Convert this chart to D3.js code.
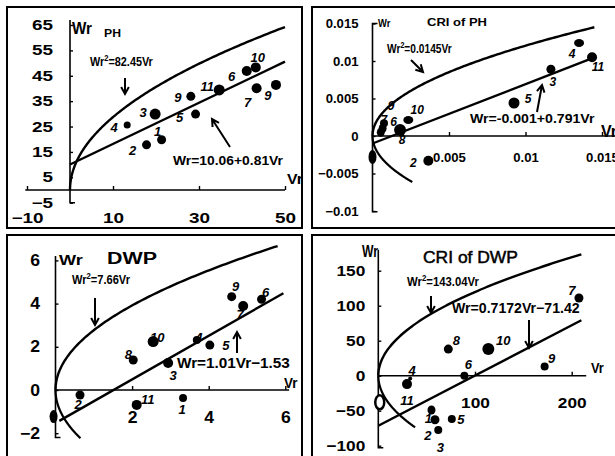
<!DOCTYPE html>
<html>
<head>
<meta charset="utf-8">
<script src="https://cdn.jsdelivr.net/npm/d3@7"></script>
<style>
  body { margin: 0; background: #fff; }
  svg { display: block; }
</style>
</head>
<body>
<svg id="chart" width="615" height="456"></svg>
<script>
// ---- PH ----
const phVr = [13.3, 19.8, 17.8, 21.3, 28.1, 29.2, 34.7, 41.1, 43.2, 43.4, 47.9];
const phWr = [25.6, 29.9, 17.8, 19.8, 36.9, 29.9, 39.4, 46.9, 48.3, 40.1, 41.4];
const phLabels = ["4", "3", "2", "1", "9", "5", "11", "6", "10", "7", "9"];
const phK = 82.45;             // Wr^2 = k Vr
const phFit = [10.06, 0.81];   // Wr = a + b Vr
const phXTicks = [-10, 10, 30, 50];
const phYTicks = [-5, 5, 15, 25, 35, 45, 55, 65];

// ---- CRI of PH ----
const cphVr = [0.0135, 0.01435, 0.01166, 0.00925, 0.00234, 0.0018, 0.00075, 0.00066, 0.00054, 0, 0.00365];
const cphWr = [0.0124, 0.0105, 0.0089, 0.0044, 0.00213, 0.0008, 0.0017, 0.001, 0.00049, -0.0028, -0.0033];
const cphLabels = ["4", "11", "3", "5", "10", "8", "9", "6", "7", "", "2"];
const cphK = 0.0145;
const cphFit = [-0.001, 0.791];
const cphXTicks = [0.005, 0.01, 0.015];
const cphYTicks = [-0.01, -0.005, 0, 0.005, 0.01, 0.015];

// ---- DWP ----
const dwpVr = [4.6, 4.9, 5.38, 3.69, 4.03, 2.55, 2.03, 2.94, 0.64, 2.12, 3.33, -0.05];
const dwpWr = [4.32, 3.89, 4.2, 2.31, 2.08, 2.24, 1.39, 1.25, -0.23, -0.69, -0.37, -1.23];
const dwpLabels = ["9", "7", "6", "4", "5", "10", "8", "3", "2", "11", "1", ""];
const dwpK = 7.66;
const dwpFit = [-1.53, 1.01];
const dwpXTicks = [2, 4, 6];
const dwpYTicks = [-2, 0, 2, 4, 6];

// ---- CRI of DWP ----
const cdwpVr = [207.5, 72.4, 113.8, 172, 89, 33, 29.7, 55, 58.6, 62, 76, 1.5];
const cdwpWr = [111, 38, 38, 13, 0, -4, -12, -49, -63, -77.6, -62, -38];
const cdwpLabels = ["7", "8", "10", "9", "6", "4", "11", "1", "2", "3", "5", ""];
const cdwpK = 143.04;
const cdwpFit = [-71.42, 0.7172];
const cdwpXTicks = [100, 200];
const cdwpYTicks = [-100, -50, 0, 50, 100, 150];

const FONT = '"Liberation Sans", Arial, Helvetica, sans-serif';
const svg = d3.select("#chart").attr("font-family", FONT);

// stretch tick text horizontally (the scanned figure is a bit wide)
function widen(sel, sx) {
  sel.each(function () {
    if (sx === 1) return;
    const w = this.getComputedTextLength();
    d3.select(this).attr("textLength", w * sx).attr("lengthAdjust", "spacingAndGlyphs");
  });
}

function arrow(g, x1, y1, x2, y2) {
  const a = Math.atan2(y2 - y1, x2 - x1), h = 8, s = 0.5;
  const p = `M${x1},${y1}L${x2},${y2}` +
    `M${x2 - h * Math.cos(a - s)},${y2 - h * Math.sin(a - s)}L${x2},${y2}` +
    `L${x2 - h * Math.cos(a + s)},${y2 - h * Math.sin(a + s)}`;
  g.append("path").attr("d", p).attr("fill", "none").attr("stroke", "#000")
    .attr("stroke-width", 2).attr("stroke-linejoin", "miter");
}

// text at (x, y) baseline-left, squeezed/stretched to the given width
function label(g, txt, x, y, size, width, opts = {}) {
  const t = g.append("text").attr("transform", `translate(${x},${y})`)
    .attr("font-size", size).attr("font-weight", opts.weight || "bold")
    .attr("fill", "#000");
  if (opts.sup) {
    t.append("tspan").text(txt[0]);
    t.append("tspan").attr("font-size", size * 0.7).attr("dy", -size * 0.4).text(txt[1]);
    t.append("tspan").attr("dy", size * 0.4).text(txt[2]);
  } else t.text(txt);
  if (opts.stroke) t.attr("stroke", "#000").attr("stroke-width", opts.stroke);
  if (width) {
    const w = t.node().getBBox().width;
    t.attr("transform", `translate(${x},${y}) scale(${width / w},1)`);
  }
  return t;
}

function drawPanel(p) {
  const g = svg.append("g");
  g.append("rect").attr("x", p.frame[0]).attr("y", p.frame[1])
    .attr("width", p.frame[2]).attr("height", p.frame[3])
    .attr("fill", "none").attr("stroke", "#000").attr("stroke-width", 2);

  const x = d3.scaleLinear().domain(p.xDom).range(p.xRange);
  const y = d3.scaleLinear().domain(p.yDom).range(p.yRange);

  // axis lines
  g.append("line").attr("x1", x(p.xExt[0])).attr("x2", x(p.xExt[1]))
    .attr("y1", y(0)).attr("y2", y(0)).attr("stroke", "#000").attr("stroke-width", 1.6);
  g.append("path")
    .attr("d", `M${x(0) + 5},${y(p.yExt[0])}H${x(0)}V${y(p.yExt[1])}` + (p.topTick ? `h5` : ""))
    .attr("fill", "none").attr("stroke", "#000").attr("stroke-width", 1.6);

  // tick labels through d3 axes
  const gx = g.append("g").attr("transform", `translate(0,${y(0)})`)
    .call(d3.axisBottom(x).tickValues(p.xTicks).tickSizeInner(-4).tickSizeOuter(0)
      .tickPadding(p.xPad).tickFormat(d3.format("")));
  const gy = g.append("g").attr("transform", `translate(${x(0)},0)`)
    .call(d3.axisLeft(y).tickValues(p.yTicks).tickSizeInner(-3).tickSizeOuter(0)
      .tickPadding(p.yPad).tickFormat(d3.format("")));
  [gx, gy].forEach(a => {
    a.attr("font-family", FONT).attr("font-size", p.tickFont).attr("font-weight", "bold");
    a.select(".domain").remove();
    a.selectAll("line").attr("stroke", "#000").attr("stroke-width", 1.4);
    a.selectAll("text").attr("fill", "#000");
    widen(a.selectAll("text"), p.tickStretch);
  });

  // fitted curve  Wr^2 = k Vr
  const n = 120;
  const curve = d3.line().x(d => x(d[0])).y(d => y(d[1]));
  const up = d3.range(n + 1).map(i => { const v = p.curveMax * (i / n) ** 2; return [v, Math.sqrt(p.k * v)]; });
  g.append("path").attr("d", curve(up)).attr("fill", "none").attr("stroke", "#000").attr("stroke-width", 2.4);
  if (p.lowMax) {
    const lo = d3.range(n + 1).map(i => { const v = p.lowMax * (i / n) ** 2; return [v, -Math.sqrt(p.k * v)]; });
    g.append("path").attr("d", curve(lo)).attr("fill", "none").attr("stroke", "#000").attr("stroke-width", 2.2);
  }
  // fitted line  Wr = a + b Vr
  const fit = p.lineExt.map(v => [v, p.fit[0] + p.fit[1] * v]);
  g.append("path").attr("d", curve(fit)).attr("fill", "none").attr("stroke", "#000").attr("stroke-width", 2.4);

  // points
  const pts = p.vr.map((v, i) => ({ v, w: p.wr[i], lab: p.labels[i], i }));
  g.selectAll("ellipse.pt").data(pts).enter().append("ellipse")
    .attr("class", "pt")
    .attr("cx", d => x(d.v)).attr("cy", d => y(d.w))
    .attr("rx", d => p.rx[d.i]).attr("ry", d => p.ry[d.i])
    .attr("fill", d => (p.hollow && p.hollow[d.i]) ? "#fff" : "#000")
    .attr("stroke", "#000").attr("stroke-width", d => (p.hollow && p.hollow[d.i]) ? 2.5 : 0);
  g.selectAll("text.pl").data(pts.filter(d => d.lab)).enter().append("text")
    .attr("class", "pl")
    .attr("x", d => x(d.v) + p.off[d.i][0]).attr("y", d => y(d.w) + p.off[d.i][1])
    .attr("text-anchor", "middle").attr("dominant-baseline", "central")
    .attr("font-size", p.ptFont).attr("font-style", "italic").attr("font-weight", "bold")
    .attr("fill", "#000").text(d => d.lab);

  p.notes(g);
}

// ---------- panels ----------
drawPanel({
  frame: [7, 7, 295, 221],
  xDom: [0, 50], xRange: [70, 285], yDom: [0, 65], yRange: [190, 25],
  xExt: [-10.4, 50], yExt: [-5, 67],
  xTicks: phXTicks, yTicks: phYTicks, xPad: 23, yPad: 17, tickFont: 14, tickStretch: 1.35,
  k: phK, curveMax: 50, lowMax: 0, fit: phFit, lineExt: [0, 50],
  vr: phVr, wr: phWr, labels: phLabels, ptFont: 13,
  rx: [3.5, 5.5, 4.5, 4.5, 4.5, 4.5, 5.5, 5, 5, 5, 5],
  ry: [3.5, 5.5, 4.5, 4.5, 4.5, 4.5, 5.5, 5, 5, 5, 5],
  off: [[-13, 2], [-12, -2], [-14, 6], [-4, -8], [-13, 1], [-16, 3], [-12, -3], [-15, 6], [2, -10], [-9, 14], [-8, 11]],
  notes: g => {
    label(g, "Wr", 72, 34, 16, 20);
    label(g, "PH", 104, 37, 10, 17);
    label(g, "Vr", 287, 184, 15, 16);
    label(g, ["Wr", "2", "=82.45Vr"], 90, 66, 12.5, 63, { sup: true });
    label(g, "Wr=10.06+0.81Vr", 173, 165, 13, 110);
    arrow(g, 125, 78, 125, 94);
    arrow(g, 230, 147, 212, 119);
  }
});

drawPanel({
  frame: [312, 7, 310, 221],
  xDom: [0, 0.015], xRange: [372.5, 602], yDom: [0, 0.015], yRange: [136, 23.5],
  xExt: [0, 0.0165], yExt: [-0.0101, 0.015], topTick: true,
  xTicks: cphXTicks, yTicks: cphYTicks, xPad: 17, yPad: 14, tickFont: 12.5, tickStretch: 1.05,
  k: cphK, curveMax: 0.0145, lowMax: 0.0026, fit: cphFit, lineExt: [0, 0.0145],
  vr: cphVr, wr: cphWr, labels: cphLabels, ptFont: 12,
  rx: [5, 5, 4.5, 5.5, 5, 6, 4, 4, 4, 4, 5],
  ry: [4, 5, 4.5, 5.5, 4, 6, 4, 4.5, 4.5, 7, 5],
  off: [[-7, 11], [6, 10], [2, 13], [14, -4], [9, -10], [2, 10], [7, -17], [11, -7], [3, -12], [0, 0], [-15, 2]],
  notes: g => {
    label(g, "Wr", 378, 27, 11, 13);
    label(g, "CRI of PH", 427, 26, 10, 60);
    label(g, "Vr", 601, 137, 16, 16);
    label(g, ["Wr", "2", "=0.0145Vr"], 387, 53, 12, 65, { sup: true });
    label(g, "Wr=-0.001+0.791Vr", 470, 123, 12, 125);
    arrow(g, 411, 60, 423, 72);
    arrow(g, 537, 112, 542, 85);
  }
});

drawPanel({
  frame: [7, 235, 295, 230],
  xDom: [0, 6], xRange: [55.5, 285.3], yDom: [0, 6], yRange: [390, 260.4],
  xExt: [0, 6.1], yExt: [-2.2, 6.2],
  xTicks: dwpXTicks, yTicks: dwpYTicks, xPad: 22, yPad: 15.5, tickFont: 16, tickStretch: 1.1,
  k: dwpK, curveMax: 5.8, lowMax: 0.65, fit: dwpFit, lineExt: [0.1, 5.95],
  vr: dwpVr, wr: dwpWr, labels: dwpLabels, ptFont: 13,
  rx: [4.5, 5, 4.5, 4, 4.5, 5.5, 4.5, 5, 4.5, 5, 4, 4],
  ry: [4.5, 5, 4.5, 4, 4.5, 5.5, 4.5, 5, 4.5, 5, 4, 6.5],
  off: [[4, -10], [-3, 9], [4, -7], [2, -3], [16, 0], [4, -4], [-5, -5], [5, 12], [-2, 10], [11, -5], [-1, 12], [0, 0]],
  notes: g => {
    label(g, "Wr", 59, 265, 15, 24);
    label(g, "DWP", 107, 264, 17, 50);
    label(g, "Vr", 284, 388, 14, 14);
    label(g, ["Wr", "2", "=7.66Vr"], 72, 284, 13, 58, { sup: true });
    label(g, "Wr=1.01Vr\u22121.53", 177, 368, 15, 113);
    arrow(g, 95, 298, 95, 325);
    arrow(g, 237, 353, 237, 332);
  }
});

drawPanel({
  frame: [312, 235, 310, 230],
  xDom: [0, 200], xRange: [378.3, 571.7], yDom: [0, 150], yRange: [375.7, 270.7],
  xExt: [0, 215], yExt: [-103, 180],
  xTicks: cdwpXTicks, yTicks: cdwpYTicks, xPad: 22, yPad: 13, tickFont: 15, tickStretch: 1.15,
  k: cdwpK, curveMax: 210, lowMax: 38, fit: cdwpFit, lineExt: [0, 210],
  vr: cdwpVr, wr: cdwpWr, labels: cdwpLabels, ptFont: 13,
  hollow: [0, 0, 0, 0, 0, 0, 0, 0, 0, 0, 0, 1],
  rx: [4.5, 4.5, 6, 4, 4, 2, 5, 4, 4.5, 4, 4, 4.5],
  ry: [4.5, 4.5, 6, 4, 4, 2, 5, 4.5, 4.5, 4, 4, 7],
  off: [[-7, -8], [8, -9], [15, -9], [7, -8], [4, -11], [2, -8], [0, 16], [-3, 8], [-7, 16], [2, 17], [9, 0], [0, 0]],
  notes: g => {
    label(g, "Wr", 362, 257, 16, 16);
    label(g, "CRI of DWP", 423, 263, 17, 95, { weight: "normal", stroke: 0.5 });
    label(g, "Vr", 591, 373, 15, 13);
    label(g, ["Wr", "2", "=143.04Vr"], 407, 286, 13, 72, { sup: true });
    label(g, "Wr=0.7172Vr\u221271.42", 452, 313, 14, 128);
    arrow(g, 431, 296, 431, 313);
    arrow(g, 529, 320, 529, 348);
  }
});
</script>
</body>
</html>
